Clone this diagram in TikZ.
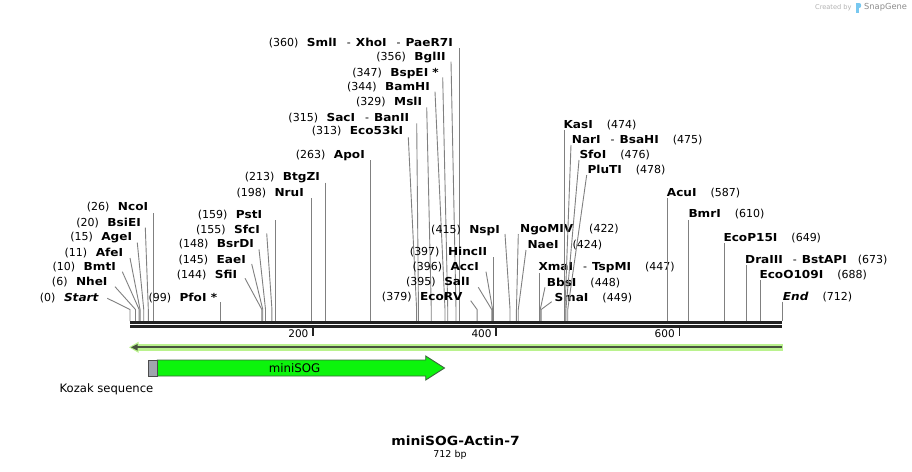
\documentclass[tikz,border=0pt]{standalone}
\usepackage{fontspec}
\setmainfont{DejaVu Sans}[BoldFeatures={FakeStretch=1.1},BoldItalicFeatures={FakeStretch=1.1}]
\definecolor{cutgray}{RGB}{128,128,128}
\definecolor{bbone}{RGB}{34,34,34}
\definecolor{featgreen}{RGB}{12,244,12}
\definecolor{featedge}{RGB}{62,100,62}
\definecolor{kozak}{RGB}{160,164,174}
\definecolor{glowgreen}{RGB}{186,242,142}
\definecolor{coreline}{RGB}{72,84,62}
\definecolor{sgblue}{RGB}{120,200,240}
\tikzset{
  lbl/.style={inner sep=0pt,text height=10pt,text depth=2pt,font=\fontsize{11}{13}\selectfont},
  cutline/.style={draw=cutgray,line width=0.9pt},
  ticklbl/.style={inner sep=0pt,font=\fontsize{10.5}{12}\selectfont,anchor=east},
  tickmark/.style={draw=bbone,line width=1.8pt}
}
% #1 anchor, #2 name, #3 x, #4 y, #5 text, #6 leader x, #7 leader y, #8 cut x
\newcommand{\cutsite}[8]{%
  \node[lbl,anchor=#1] (#2) at (#3,#4) {#5};
  \coordinate (#2-s) at (#6,#7);
  \coordinate (#2-k) at (#8,309.5);
  \coordinate (#2-b) at (#8,321);
  \draw[cutline] (#2-s) -- (#2-k) -- (#2-b);
}
\newcommand{\nm}[1]{\textbf{#1}}
\newcommand{\dsh}{\hspace{10pt}-\hspace{5pt}}
\newcommand{\gp}{\hspace{8.5pt}}
\newcommand{\rgp}{\hspace{14pt}}
\begin{document}
\begin{tikzpicture}[x=1pt,y=-1pt]
\useasboundingbox (0,0) rectangle (912,471);
\fill[white] (0,0) rectangle (912,471);

% ---- labels on the left of their sites
\cutsite{east}{start}{99}{297.3}{(0)\gp\textbf{\textit{Start}}}{107.3}{298.3}{130}
\cutsite{east}{nhe}{107.7}{281}{(6)\gp\nm{NheI}}{115}{286.7}{135.49}
\cutsite{east}{bmt}{116}{266.7}{(10)\gp\nm{BmtI}}{122.3}{271.7}{139.16}
\cutsite{east}{afe}{123.3}{252}{(11)\gp\nm{AfeI}}{130}{258}{140.07}
\cutsite{east}{age}{132.3}{236.7}{(15)\gp\nm{AgeI}}{137.3}{242.7}{143.74}
\cutsite{east}{bsie}{141}{222}{(20)\gp\nm{BsiEI}}{145.3}{227.7}{148.31}
\cutsite{east}{nco}{148.3}{206.7}{(26)\gp\nm{NcoI}}{153.81}{213.3}{153.81}
\cutsite{east}{pfo}{217.3}{297.3}{(99)\gp\nm{PfoI *}}{220.66}{302.3}{220.66}
\cutsite{east}{sfi}{237.3}{274}{(144)\gp\nm{SfiI}}{245}{278.3}{261.87}
\cutsite{east}{eae}{246}{259}{(145)\gp\nm{EaeI}}{251.7}{264}{262.78}
\cutsite{east}{bsrd}{254}{243.3}{(148)\gp\nm{BsrDI}}{259}{249.3}{265.53}
\cutsite{east}{sfc}{260}{229}{(155)\gp\nm{SfcI}}{266.7}{233.3}{271.94}
\cutsite{east}{pst}{262.3}{214}{(159)\gp\nm{PstI}}{275.6}{220}{275.6}
\cutsite{east}{nru}{304}{192.5}{(198)\gp\nm{NruI}}{311.31}{198.3}{311.31}
\cutsite{east}{btgz}{320}{176.7}{(213)\gp\nm{BtgZI}}{325.05}{182.7}{325.05}
\cutsite{east}{apo}{365}{154}{(263)\gp\nm{ApoI}}{370.84}{160}{370.84}
\cutsite{east}{eco53}{403.3}{130}{(313)\gp\nm{Eco53kI}}{408.3}{137.3}{416.62}
\cutsite{east}{sac}{409.3}{117.3}{(315)\gp\nm{SacI}\dsh\nm{BanII}}{416.7}{123.3}{418.46}
\cutsite{east}{msl}{422.3}{101}{(329)\gp\nm{MslI}}{426.7}{107.3}{431.28}
\cutsite{east}{bam}{430}{86.7}{(344)\gp\nm{BamHI}}{435}{91.7}{445.01}
\cutsite{east}{bspe}{439}{72.3}{(347)\gp\nm{BspEI *}}{442.7}{77.3}{447.76}
\cutsite{east}{bgl}{445.7}{56}{(356)\gp\nm{BglII}}{451}{61.7}{456}
\cutsite{east}{sml}{453}{42.3}{(360)\gp\nm{SmlI}\dsh\nm{XhoI}\dsh\nm{PaeR7I}}{459.66}{48.3}{459.66}
\cutsite{east}{ecorv}{462.7}{296.7}{(379)\gp\nm{EcoRV}}{470.7}{300.7}{477.06}
\cutsite{east}{sal}{470}{281.7}{(395)\gp\nm{SalI}}{478.3}{287.3}{491.71}
\cutsite{east}{acc}{479}{266.7}{(396)\gp\nm{AccI}}{486}{271.7}{492.63}
\cutsite{east}{hinc}{487.3}{251.7}{(397)\gp\nm{HincII}}{493.54}{257.3}{493.54}
\cutsite{east}{nsp}{500}{229.3}{(415)\gp\nm{NspI}}{505}{234}{510.03}

% ---- labels on the right of their sites
\cutsite{west}{ngom}{520}{228.3}{\nm{NgoMIV}\hspace{16pt}(422)}{518.3}{234}{516.44}
\cutsite{west}{nae}{527.3}{244.3}{\nm{NaeI}\rgp(424)}{526}{250}{518.27}
\cutsite{west}{xma}{538.3}{266.7}{\nm{XmaI}\dsh\nm{TspMI}\rgp(447)}{539.33}{273.3}{539.33}
\cutsite{west}{bbs}{546.7}{282.3}{\nm{BbsI}\rgp(448)}{545}{287.3}{540.25}
\cutsite{west}{sma}{554.3}{297.3}{\nm{SmaI}\rgp(449)}{551.7}{301.7}{541.16}
\cutsite{west}{kas}{563.3}{124}{\nm{KasI}\rgp(474)}{564.05}{130}{564.05}
\cutsite{west}{nar}{571.7}{139.3}{\nm{NarI}\dsh\nm{BsaHI}\rgp(475)}{571}{145}{564.97}
\cutsite{west}{sfo}{579.3}{154.3}{\nm{SfoI}\rgp(476)}{579}{160}{565.89}
\cutsite{west}{plut}{587.3}{169.3}{\nm{PluTI}\rgp(478)}{586.7}{175}{567.72}
\cutsite{west}{acu}{666.7}{192.7}{\nm{AcuI}\rgp(587)}{667.53}{198.3}{667.53}
\cutsite{west}{bmr}{688.3}{213.3}{\nm{BmrI}\rgp(610)}{688.59}{220}{688.59}
\cutsite{west}{ecop}{723.3}{237.3}{\nm{EcoP15I}\rgp(649)}{724.31}{243.3}{724.31}
\cutsite{west}{dra}{745}{259.3}{\nm{DraIII}\dsh\nm{BstAPI}\hspace{11pt}(673)}{746.29}{265}{746.29}
\cutsite{west}{ecoo}{759.3}{274}{\nm{EcoO109I}\rgp(688)}{760.02}{280}{760.02}
\cutsite{west}{endl}{782.7}{296.7}{\textbf{\textit{End}}\rgp(712)}{782}{301.7}{782}

% ---- backbone (double strand)
\draw[bbone,line width=2.8pt] (130,322.4) -- (782,322.4);
\draw[bbone,line width=2.6pt] (130,326.6) -- (782,326.6);

% ---- ticks
\coordinate (t200) at (313.15,327);
\coordinate (t400) at (496.29,327);
\coordinate (t600) at (679.44,327);
\draw[tickmark] (t200) -- ++(0,9);
\draw[tickmark] (t400) -- ++(0,9);
\draw[tickmark] (t600) -- ++(0,9);
\node[ticklbl] (l200) at (308.6,333.5) {200};
\node[ticklbl] (l400) at (491.8,333.5) {400};
\node[ticklbl] (l600) at (674.9,333.5) {600};

% ---- reverse full-length arrow
\fill[glowgreen] (129,347.3) -- (138.5,341.8) -- (138.5,352.8) -- cycle;
\draw[glowgreen,line width=6.5pt] (136,347.3) -- (783,347.3);
\draw[coreline,line width=2.2pt] (136,347.3) -- (781.5,347.3);
\fill[coreline] (131,347.3) -- (137.5,344) -- (137.5,350.6) -- cycle;

% ---- features
\draw[featedge,fill=featgreen,line width=0.9pt]
  (157.3,360) -- (425.7,360) -- (425.7,356) -- (444.5,368) -- (425.7,380) -- (425.7,376) -- (157.3,376) -- cycle;
\draw[black!70,fill=kozak,line width=0.9pt] (148.3,360) rectangle (157.3,376);
\node[inner sep=0pt,font=\fontsize{11.8}{13}\selectfont] (minisog) at (294.5,367.7) {miniSOG};
\node[inner sep=0pt,anchor=west,font=\fontsize{11.6}{13}\selectfont] (kozaklbl) at (59.5,389.7) {Kozak sequence};

% ---- title
\node[inner sep=0pt,font=\fontsize{12.6}{15}\selectfont\bfseries] (title) at (455.5,440.7) {miniSOG-Actin-7};
\node[inner sep=0pt,font=\fontsize{9.5}{11}\selectfont] (bp) at (450,455) {712 bp};

% ---- credit
\node[inner sep=0pt,anchor=west,text=black!30,font=\fontsize{6.6}{8}\selectfont] (created) at (815,7.3) {Created by};
\fill[sgblue] (855.5,2.5) rectangle (858.5,13);
\fill[sgblue] (858.5,2.5) .. controls (862,2.5) and (862,8) .. (858.5,8) -- cycle;
\node[inner sep=0pt,anchor=west,text=black!45,font=\fontsize{8.3}{10}\selectfont] (snapgene) at (864,7.3) {SnapGene};
\end{tikzpicture}
\end{document}
